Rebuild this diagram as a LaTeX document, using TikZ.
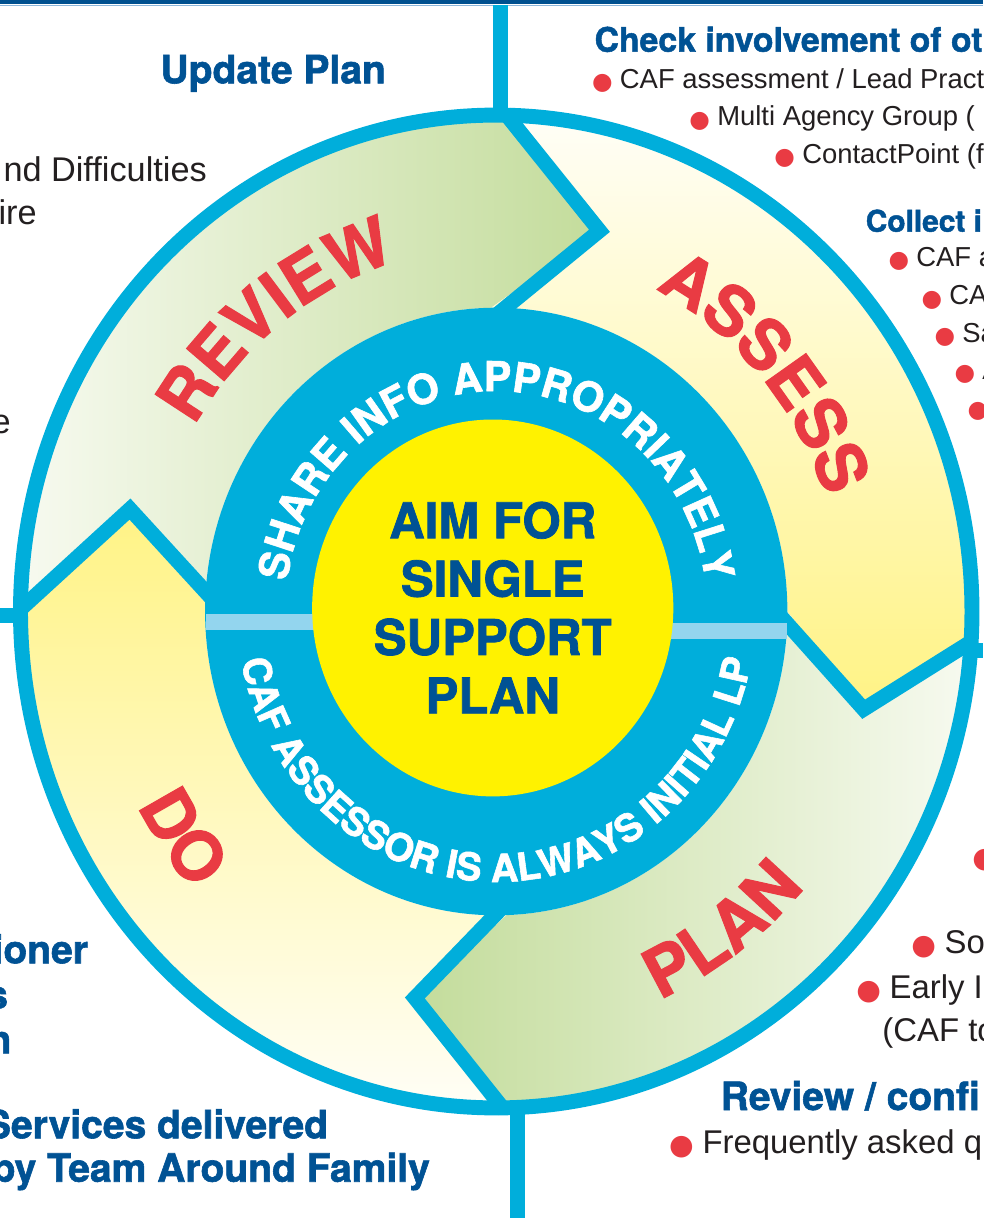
\documentclass[tikz,border=0pt]{standalone}
\usepackage{fontspec}
\usepackage{tikz}
\usetikzlibrary{decorations.text}
\setmainfont{TeX Gyre Heros}[BoldFeatures={FakeBold=1.5}]
\newfontfamily\bodyfont{Liberation Sans}
\newfontfamily\dotfont{DejaVu Sans}

\definecolor{ringblue}{HTML}{00AEDB}
\definecolor{barblue}{HTML}{93D5EE}
\definecolor{navy}{HTML}{005294}
\definecolor{bandblue}{HTML}{00508F}
\definecolor{bandlight}{HTML}{8DB6DA}
\definecolor{cycred}{HTML}{E93B43}
\definecolor{inkgray}{HTML}{231F20}
\definecolor{aimyellow}{HTML}{FFF200}
\definecolor{greendeep}{HTML}{C3DC9B}
\definecolor{greenpale}{HTML}{F7FAF0}
\definecolor{yellowdeep}{HTML}{FFF385}
\definecolor{yellowpale}{HTML}{FFFEF7}

\newcommand{\bul}{\makebox[0.6em][c]{\raisebox{-0.045em}{\scalebox{0.86}{\dotfont\color{cycred}●}}}\hspace{0.34em}}

\begin{document}
\begin{tikzpicture}[x=0.02cm, y=0.02088cm,
        ringline/.style={draw=ringblue, line width=8.5pt, line join=miter},
        pixelgrid/.style={shift={(-496,585.73)}, yscale=-0.95785},
        headbig/.style={font=\fontsize{22.2}{26}\selectfont\bfseries, text=navy, inner sep=0pt},
        headmid/.style={font=\fontsize{19.2}{23}\selectfont\bfseries, text=navy, inner sep=0pt},
        headsmall/.style={font=\fontsize{17}{20}\selectfont\bfseries, text=navy, inner sep=0pt},
        bodyleft/.style={font=\bodyfont\fontsize{19.5}{23}\selectfont, text=inkgray, inner sep=0pt},
        bodybig/.style={font=\bodyfont\fontsize{18.7}{22}\selectfont, text=inkgray, inner sep=0pt},
        bodysmall/.style={font=\bodyfont\fontsize{15.6}{19}\selectfont, text=inkgray, inner sep=0pt},
        ringtext/.style 2 args={decorate, decoration={text along path, text align=center,
            text={|\fontsize{#1}{#1}\selectfont\bfseries\color{white}|#2}}},
        cycword/.style={decorate, decoration={text along path, text align=center,
            text={|\fontsize{38.7}{40}\selectfont\bfseries\color{cycred}|#1}}}]
        \path[use as bounding box] (-496,-580.94) rectangle (487,585.73);
        \clip (-496,-580.94) rectangle (487,585.73);
        \fill[white] (-496,-580.94) rectangle (487,585.73);

        \shade[left color=greenpale, right color=greendeep] (180:475.5) arc[start angle=180, end angle=89, radius=475.5] -- (74.2:379) -- (91:291) arc[start angle=91, end angle=178.4, radius=291] -- (165:379) -- cycle; % Review.
        \shade[top color=yellowpale, bottom color=yellowdeep] (89:475.5) arc[start angle=89, end angle=-3.3, radius=475.5] -- (-14.3:379) -- (0:291) arc[start angle=0, end angle=91, radius=291] -- (74.2:379) -- cycle; % Assess.
        \shade[left color=greendeep, right color=greenpale] (-3.3:475.5) arc[start angle=-3.3, end angle=-89, radius=475.5] -- (-102.4:379) -- (-88:291) arc[start angle=-88, end angle=0, radius=291] -- (-14.3:379) -- cycle; % Plan.
        \shade[top color=yellowdeep, bottom color=yellowpale] (-89:475.5) arc[start angle=-89, end angle=-180, radius=475.5] -- (165:379) -- (178.4:291) arc[start angle=178.4, end angle=272, radius=291] -- (-102.4:379) -- cycle; % Do.

        \draw[ringline] (0,0) circle[radius=475.5];
        \draw[ringline] (89:478) -- (74.2:379) -- (91:280);
        \draw[ringline] (-3.3:478) -- (-14.3:379) -- (0:280);
        \draw[ringline] (-89:478) -- (-102.4:379) -- (-88:280);
        \draw[ringline] (180:478) -- (165:379) -- (178.4:280);

        \fill[ringblue] (0,0) circle[radius=291];
        \fill[barblue] (-290.5,-2.4) rectangle (-180,-17.7);
        \fill[barblue] (175,-11) rectangle (290.5,-25.9);
        \fill[aimyellow] (-3.5,3.4) circle[radius=180.5];
        \node[font=\fontsize{28}{33.2}\selectfont\bfseries, text=navy, align=center, inner sep=0pt] (aim) at (-3.5,3.8) {AIM FOR\\SINGLE\\SUPPORT\\PLAN};

        \path[ringtext={23.5}{SHARE INFO APPROPRIATELY}] (175:211) arc[start angle=175, end angle=5, radius=211];
        \path[ringtext={21.9}{CAF ASSESSOR IS ALWAYS INITIAL LP}] (180:259) arc[start angle=180, end angle=360, radius=259];

        \path[cycword=REVIEW] (175:350) arc[start angle=175, end angle=80, radius=350];
        \path[cycword=ASSESS] (86:347) arc[start angle=86, end angle=-4, radius=347];
        \path[cycword=PLAN] (-100:406) arc[start angle=-100, end angle=-8, radius=406];
        \path[cycword=DO] (170:404) arc[start angle=170, end angle=260, radius=404];

        \begin{scope}[pixelgrid]
            \fill[bandblue] (0,0) rectangle (983,4.5);
            \draw[bandlight, line width=0.9pt] (0,5.6) -- (983,5.6);
            \draw[ringline] (500,5) -- (500,114);
            \draw[ringline] (517,1108) -- (517,1218);
            \draw[ringline] (0,615.5) -- (22,615.5);
            \draw[ringline] (971,650.5) -- (983,650.5);

            \node[headbig, anchor=base west] (update) at (160,83.3) {Update Plan};
            \node[bodyleft, anchor=base east] (sdq) at (207,181.7) {nd Difficulties};
            \node[bodyleft, anchor=base east] (sdqb) at (37,225) {ire};
            \node[bodyleft, anchor=base east] (sliver) at (11,433) {e};

            \node[headmid, anchor=base west] (check) at (594,51.7) {Check involvement of ot};
            \node[bodysmall, anchor=base west] (caf) at (593.5,88.3) {\bul CAF assessment / Lead Pract};
            \node[bodysmall, anchor=base west] (multi) at (690.8,126) {\bul Multi Agency Group (};
            \node[bodysmall, anchor=base west] (contact) at (775.8,163.3) {\bul ContactPoint (f};
            \node[headsmall, anchor=base west] (collect) at (865,231.7) {Collect i};
            \node[bodysmall, anchor=base west] (cafa) at (889.8,266.7) {\bul CAF a};
            \node[bodysmall, anchor=base west] (cab) at (922.8,305) {\bul CA};
            \node[bodysmall, anchor=base west] (sa) at (935.8,342.7) {\bul Sa};
            \node[bodysmall, anchor=base west] (aa) at (955.8,379.5) {\bul A};
            \node[bodysmall, anchor=base west] (dotfive) at (968.8,416) {\bul};

            \node[bodybig, anchor=base west] (dotsix) at (974,866) {\bul};
            \node[bodybig, anchor=base west] (so) at (913,953.3) {\bul So};
            \node[bodybig, anchor=base west] (early) at (858,998.3) {\bul Early I};
            \node[bodybig, anchor=base west] (caft) at (881.7,1041.7) {(CAF to};
            \node[headbig, anchor=base west] (confirm) at (720,1110) {Review / confi};
            \node[bodybig, anchor=base west] (faq) at (671,1153) {\bul Frequently asked q};

            \node[headbig, anchor=base east] (lp) at (88.3,963.3) {ioner};
            \node[headbig, anchor=base east] (lpb) at (8.3,1008.3) {s};
            \node[headbig, anchor=base east] (lpc) at (11.7,1053.3) {n};
            \node[headbig, anchor=base east] (services) at (328.3,1138.3) {Services delivered};
            \node[headbig, anchor=base east] (team) at (430,1181.7) {by Team Around Family};
        \end{scope}
    \end{tikzpicture}
\end{document}
